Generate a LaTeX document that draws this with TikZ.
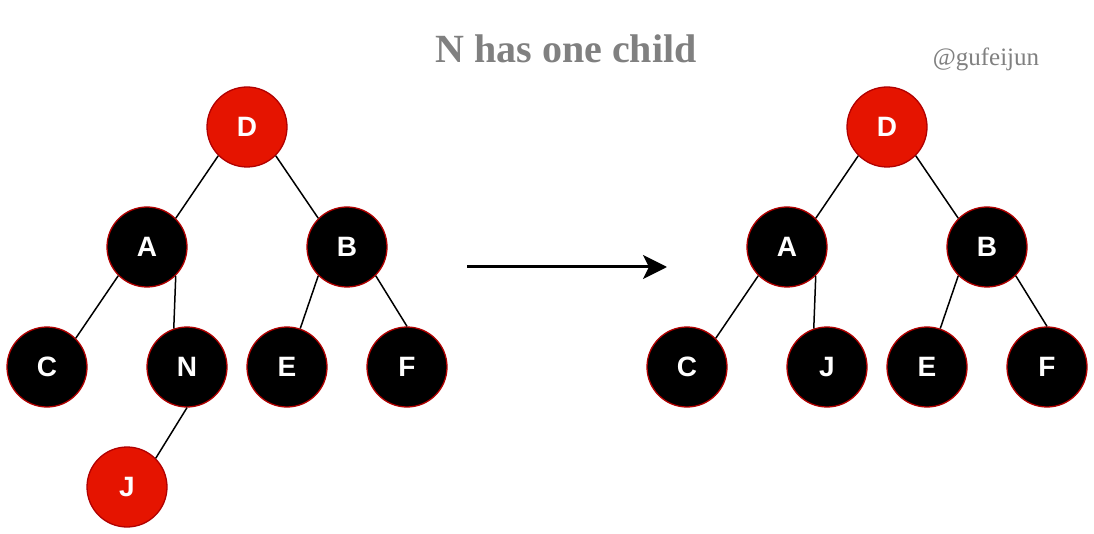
\documentclass[tikz,border=0pt]{standalone}
\usepackage{fontspec}
\setmainfont{Liberation Serif}
\newfontfamily\lsans{Liberation Sans}
\usetikzlibrary{arrows.meta}
\definecolor{rbred}{HTML}{E51400}
\definecolor{rbborder}{HTML}{B20000}
\definecolor{titlegrey}{HTML}{808080}
\tikzset{
  rbnode/.style={circle, minimum size=80pt, inner sep=0pt, draw=rbborder, line width=1.3pt,
    text=white, font=\lsans\bfseries\fontsize{28}{32}\selectfont},
  rednode/.style={rbnode, fill=rbred},
  blacknode/.style={rbnode, fill=black},
  edge/.style={draw=black, line width=1.5pt},
  bigarrow/.style={draw=black, line width=3pt, -{Stealth[length=24pt,width=24pt,inset=6pt]}}
}
\begin{document}
\begin{tikzpicture}[x=1pt,y=-1pt]
\useasboundingbox (0,0) rectangle (1094,534);
\fill[white] (0,0) rectangle (1094,534);
% title and watermark
\node[text=titlegrey, font=\bfseries\fontsize{40}{48}\selectfont] (title) at (566,49) {N has one child};
\node[text=titlegrey, font=\fontsize{25}{30}\selectfont] (mark) at (986,59) {@gufeijun};
% left tree
\node[rednode] (D1) at (247,127) {D};
\node[blacknode] (A1) at (147,247) {A};
\node[blacknode] (B1) at (347,247) {B};
\node[blacknode] (C1) at (47,367) {C};
\node[blacknode] (N1) at (187,367) {N};
\node[blacknode] (E1) at (287,367) {E};
\node[blacknode] (F1) at (407,367) {F};
\node[rednode] (J1) at (127,487) {J};
\draw[edge] (D1.225) -- (A1.45);
\draw[edge] (D1.315) -- (B1.135);
\draw[edge] (A1.225) -- (C1.45);
\draw[edge] (A1.315) -- (N1.109);
\draw[edge] (B1.225) -- (E1.71);
\draw[edge] (B1.315) -- (F1.90);
\draw[edge] (N1.270) -- (J1.45);
% arrow
\coordinate (arrS) at (467,267);
\coordinate (arrE) at (667,267);
\draw[bigarrow] (arrS) -- (arrE);
% right tree
\node[rednode] (D2) at (887,127) {D};
\node[blacknode] (A2) at (787,247) {A};
\node[blacknode] (B2) at (987,247) {B};
\node[blacknode] (C2) at (687,367) {C};
\node[blacknode] (J2) at (827,367) {J};
\node[blacknode] (E2) at (927,367) {E};
\node[blacknode] (F2) at (1047,367) {F};
\draw[edge] (D2.225) -- (A2.45);
\draw[edge] (D2.315) -- (B2.135);
\draw[edge] (A2.225) -- (C2.45);
\draw[edge] (A2.315) -- (J2.109);
\draw[edge] (B2.225) -- (E2.71);
\draw[edge] (B2.315) -- (F2.90);
\end{tikzpicture}
\end{document}
